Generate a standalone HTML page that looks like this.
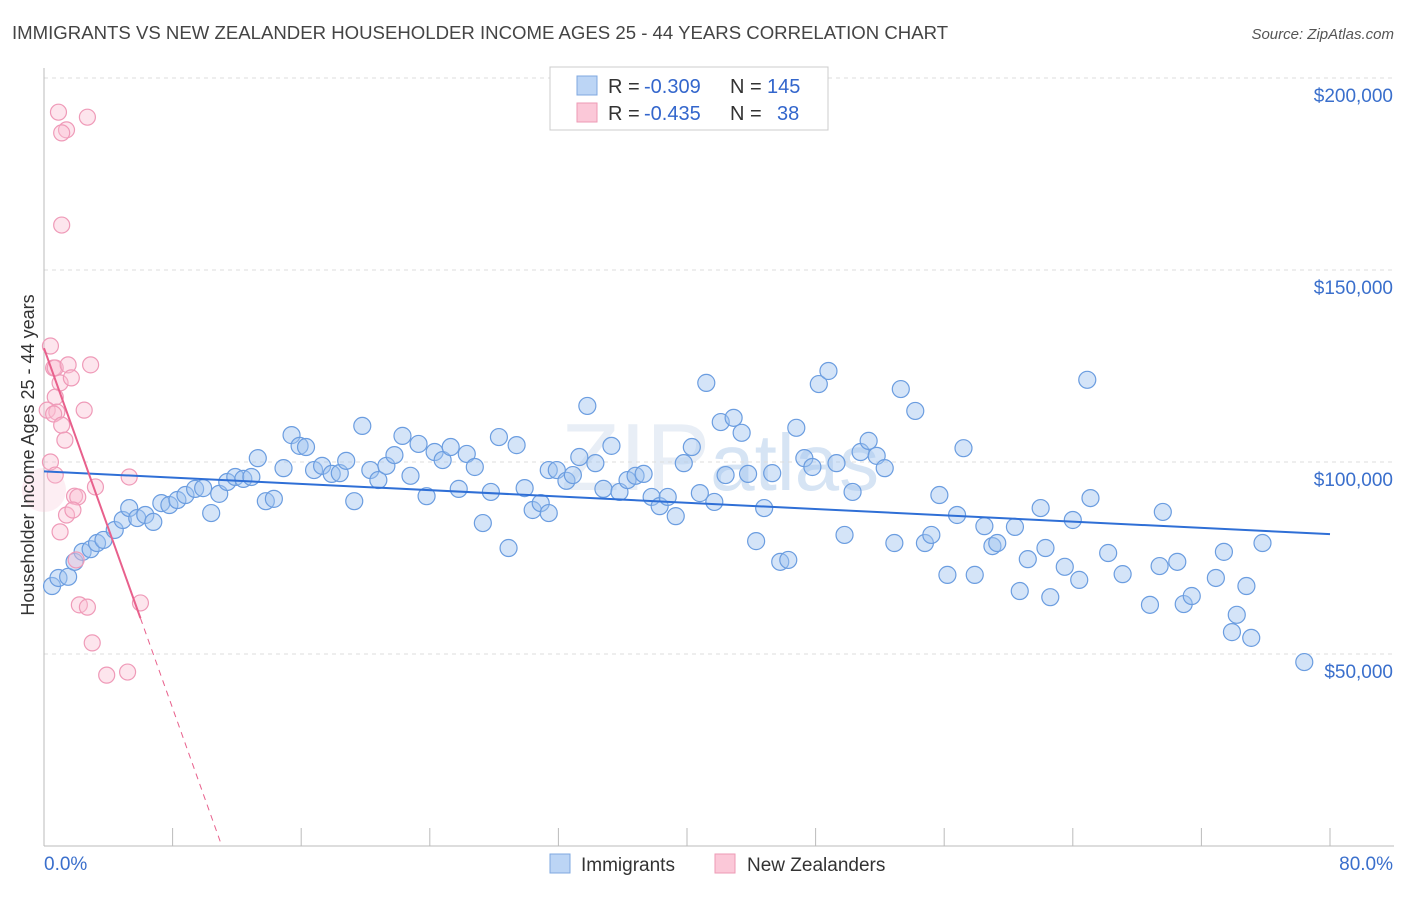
<!DOCTYPE html>
<html><head><meta charset="utf-8"><style>
body{margin:0;background:#fff;font-family:"Liberation Sans",sans-serif;}
svg text{font-family:"Liberation Sans",sans-serif;}
</style></head><body>
<svg id="chart" width="1406" height="892" viewBox="0 0 1406 892" xmlns="http://www.w3.org/2000/svg">
<text x="12" y="39" font-size="18.6" fill="#444">IMMIGRANTS VS NEW ZEALANDER HOUSEHOLDER INCOME AGES 25 - 44 YEARS CORRELATION CHART</text>
<text x="1394" y="39" font-size="15" fill="#555" text-anchor="end" font-style="italic">Source: ZipAtlas.com</text>
<text x="720" y="490" font-size="96" fill="#e8eef6" text-anchor="middle" font-family="Liberation Serif">ZIP<tspan font-family="Liberation Sans" font-size="80" fill="#d6e4f4">atlas</tspan></text>
<g id="grid"></g>
<g id="axes"></g>
<g id="pts"></g>
<g id="trend"></g>
<text transform="translate(34,455) rotate(-90)" font-size="18" fill="#333" text-anchor="middle">Householder Income Ages 25 - 44 years</text>
<g>
<rect x="550" y="67" width="278" height="63" fill="#fff" stroke="#ccc"/>
<rect x="577" y="76" width="20" height="19" fill="#bcd5f5" stroke="#7fa8e0"/>
<rect x="577" y="103" width="20" height="19" fill="#fbc8d8" stroke="#ee9ab5"/>
<text x="608" y="93" font-size="20" fill="#333">R =</text>
<text x="644" y="93" font-size="20" fill="#3366cc">-0.309</text>
<text x="730" y="93" font-size="20" fill="#333">N =</text>
<text x="767" y="93" font-size="20" fill="#3366cc">145</text>
<text x="608" y="120" font-size="20" fill="#333">R =</text>
<text x="644" y="120" font-size="20" fill="#3366cc">-0.435</text>
<text x="730" y="120" font-size="20" fill="#333">N =</text>
<text x="777" y="120" font-size="20" fill="#3366cc">38</text>
</g>
<g>
<rect x="550" y="854" width="20" height="19" fill="#bcd5f5" stroke="#7fa8e0"/>
<text x="581" y="871" font-size="19" fill="#333">Immigrants</text>
<rect x="715" y="854" width="20" height="19" fill="#fbc8d8" stroke="#ee9ab5"/>
<text x="747" y="871" font-size="19" fill="#333">New Zealanders</text>
</g>
</svg>
<script>
const blueX=[0.5,0.9,1.5,1.9,2.4,2.9,3.3,3.7,4.4,4.9,5.3,5.8,6.3,6.8,7.3,7.8,8.3,8.8,9.4,9.9,10.4,10.9,11.4,11.9,12.4,12.9,13.3,13.8,14.3,14.9,15.4,15.9,16.3,16.8,17.3,17.9,18.4,18.8,19.3,19.8,20.3,20.8,21.3,21.8,22.3,22.8,23.3,23.8,24.3,24.8,25.3,25.8,26.3,26.8,27.3,27.8,28.3,28.9,29.4,29.9,30.4,30.9,31.4,31.4,31.9,32.5,32.9,33.3,33.8,34.3,34.8,35.3,35.8,36.3,36.8,37.3,37.8,38.3,38.8,39.3,39.8,40.3,40.8,41.2,41.7,42.1,42.4,42.9,43.4,43.8,44.3,44.8,45.3,45.8,46.3,46.8,47.3,47.8,48.2,48.8,49.3,49.8,50.3,50.8,51.3,51.8,52.3,52.9,53.3,54.2,54.8,55.2,55.7,56.2,56.8,57.2,57.9,58.5,59.0,59.3,60.4,60.7,61.2,62.0,62.3,62.6,63.5,64.0,64.4,64.9,65.1,66.2,67.1,68.8,69.4,69.6,70.5,70.9,71.4,72.9,73.4,73.9,74.2,74.8,75.1,75.8,78.4];
const blueY=[67.7,69.8,70.1,74.0,76.6,77.3,78.9,79.7,82.3,84.9,88.0,85.4,86.2,84.4,89.3,88.8,90.1,91.4,93.0,93.2,86.7,91.7,94.8,96.1,95.6,96.1,101.0,89.8,90.4,98.4,107.0,104.2,103.9,97.9,99.0,96.9,97.1,100.3,89.8,109.4,97.9,95.3,99.0,101.8,106.8,96.4,104.7,91.1,102.6,100.5,103.9,93.0,102.1,98.7,84.1,92.2,106.5,77.6,104.4,93.2,87.5,89.3,86.7,97.9,97.9,95.1,96.6,101.3,114.6,99.7,93.0,104.2,92.2,95.3,96.4,96.9,90.9,88.5,90.9,85.9,99.7,103.9,91.9,120.6,89.6,110.4,96.6,111.5,107.6,96.9,79.4,88.0,97.1,74.0,74.5,108.9,101.0,98.7,120.3,123.7,99.7,81.0,92.2,102.6,105.5,101.6,98.4,78.9,119.0,113.3,78.9,81.0,91.4,70.6,86.2,103.6,70.6,83.3,78.1,78.9,83.1,66.4,74.7,88.0,77.6,64.8,72.7,84.9,69.3,121.4,90.6,76.3,70.8,62.8,72.9,87.0,74.0,63.0,65.1,69.8,76.6,55.7,60.2,67.7,54.2,78.9,47.9];
const pinkX=[0.9,2.7,1.4,1.1,1.1,0.4,0.6,0.7,1.5,2.9,1.0,1.7,0.7,0.2,0.8,0.6,2.5,1.1,1.3,0.4,0.7,5.3,3.2,1.9,2.1,1.4,1.8,1.0,2.0,6.0,2.2,2.7,3.0,3.9,5.2,0.0];
const pinkY=[191.1,189.8,186.5,185.7,161.7,130.2,124.5,124.5,125.3,125.3,120.6,121.9,116.9,113.5,113.0,112.5,113.5,109.6,105.7,100.0,96.6,96.1,93.5,91.1,90.9,86.2,87.5,81.8,74.5,63.3,62.8,62.2,52.9,44.5,45.3,92.7];
const xTicks=[0,8,16,24,32,40,48,56,64,72,80];
const yTicks=[50,100,150,200];
const yTickLabels=["$50,000","$100,000","$150,000","$200,000"];

const X0=44,X1=1330,Y0=846,PXK=3.84;
const sx=v=>X0+(v/80)*(X1-X0);
const sy=v=>Y0-v*PXK;
const NS="http://www.w3.org/2000/svg";
function mk(tag,attrs,parent){const e=document.createElementNS(NS,tag);for(const k in attrs)e.setAttribute(k,attrs[k]);parent.appendChild(e);return e;}
const grid=document.getElementById('grid'),axes=document.getElementById('axes'),pts=document.getElementById('pts'),trend=document.getElementById('trend');
mk('line',{x1:44,x2:1394,y1:78,y2:78,stroke:'#ddd','stroke-dasharray':'4,4'},grid);
yTicks.forEach((t,i)=>{
 const g=mk('line',{x1:44,x2:1394,y1:sy(t),y2:sy(t),stroke:'#ddd','stroke-dasharray':'4,4'},grid);
 
 
 const tx=mk('text',{x:1393,y:sy(t)+24,'font-size':19,fill:'#3a6fcc','text-anchor':'end'},axes);
 tx.textContent=yTickLabels[i];
 
 
});
const al=mk('line',{x1:44,x2:1394,y1:846,y2:846,stroke:'#bbb'},axes);


const yl=mk('line',{x1:44,x2:44,y1:68,y2:846,stroke:'#bbb'},axes);


xTicks.forEach(t=>{
 const l=mk('line',{x1:sx(t),x2:sx(t),y1:828,y2:846,stroke:'#bbb'},axes);
 
 
});
const xl0=mk('text',{x:44,y:870,'font-size':19,fill:'#3a6fcc'},axes);xl0.textContent=xTicks[0].toFixed(1)+'%';


const xl1=mk('text',{x:1393,y:870,'font-size':19,fill:'#3a6fcc','text-anchor':'end'},axes);xl1.textContent=xTicks[xTicks.length-1].toFixed(1)+'%';



blueX.forEach((x,i)=>{
 const c=mk('circle',{cx:sx(x),cy:sy(blueY[i]),r:8.5,fill:'rgba(160,195,240,0.45)',stroke:'#6b9de0','stroke-width':1.2},pts);
 
 
});
pinkX.forEach((x,i)=>{
 const big=i===pinkX.length-1;
 const c=mk('circle',{cx:sx(x),cy:sy(pinkY[i]),r:big?22:8,fill:big?'rgba(250,200,215,0.3)':'rgba(250,190,210,0.4)',stroke:big?'none':'#ef9ab8','stroke-width':1.2},pts);
 
 
});
function fit(xs,ys){const n=xs.length;let mx=0,my=0;xs.forEach((x,i)=>{mx+=x;my+=ys[i];});mx/=n;my/=n;let a=0,b=0;xs.forEach((x,i)=>{a+=(x-mx)*(ys[i]-my);b+=(x-mx)*(x-mx);});const m=a/b;return [m,my-m*mx];}
const [bm,bb]=fit(blueX,blueY);
const bl=mk('line',{x1:sx(0),y1:sy(bb),x2:sx(80),y2:sy(bb+bm*80),stroke:'#2f6fd6','stroke-width':2},trend);


const [pm,pb]=fit(pinkX,pinkY);
const pmax=Math.max(...pinkX);
const pl=mk('line',{x1:sx(0),y1:sy(pb),x2:sx(pmax),y2:sy(pb+pm*pmax),stroke:'#e8608c','stroke-width':2},trend);


const xz=pm<0?-pb/pm:pmax;
const pd=mk('line',{x1:sx(pmax),y1:sy(pb+pm*pmax),x2:sx(xz),y2:sy(0),stroke:'#e8608c','stroke-width':1,'stroke-dasharray':'6,5'},trend);


</script>
</body></html>
